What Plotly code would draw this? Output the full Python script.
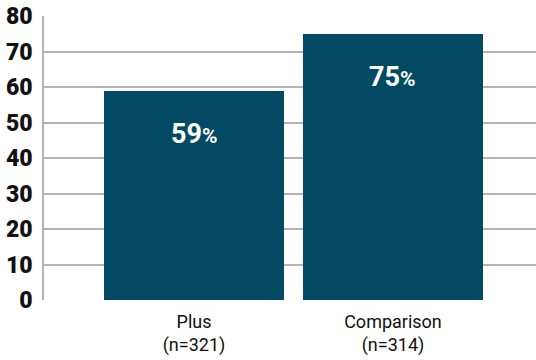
import plotly.graph_objects as go

categories = ["Plus<br>(n=321)", "Comparison<br>(n=314)"]
values = [59, 75]
labels = ["59", "75"]
y_ticks = [0, 10, 20, 30, 40, 50, 60, 70, 80]

BAR = "#024a63"
GRID = "#b3b3b3"

fig = go.Figure()
fig.add_trace(go.Bar(
    x=[0, 1], y=values, marker=dict(color=BAR, line=dict(width=0)),
    width=0.905, hoverinfo="skip",
))
for i, (v, t) in enumerate(zip(values, labels)):
    fig.add_annotation(
        x=i, y=v, yshift=-43, showarrow=False,
        text=f"<b>{t}<span style='font-size:21px'>%</span></b>",
        font=dict(family="Roboto", size=27, color="white"),
    )

fig.update_layout(
    width=536, height=360,
    margin=dict(l=44, r=0, t=16, b=60),
    plot_bgcolor="white", paper_bgcolor="white",
    showlegend=False,
    bargap=0,
)
fig.update_xaxes(
    range=[-0.754, 1.719],
    tickmode="array", tickvals=[0, 1], ticktext=categories,
    tickfont=dict(family="Roboto", size=18, color="#111"),
    showgrid=False, zeroline=False, showline=False, ticks="",
    ticklabelstandoff=9,
)
fig.update_yaxes(
    range=[0, 80], tickvals=y_ticks,
    tickfont=dict(family="Roboto", size=23, color="#111", weight=900),
    showgrid=True, gridcolor=GRID, gridwidth=1.5,
    zeroline=False, showline=True, linecolor=GRID, linewidth=1.5,
    ticks="", ticklabelstandoff=5,
)
fig.write_html("out.html")
